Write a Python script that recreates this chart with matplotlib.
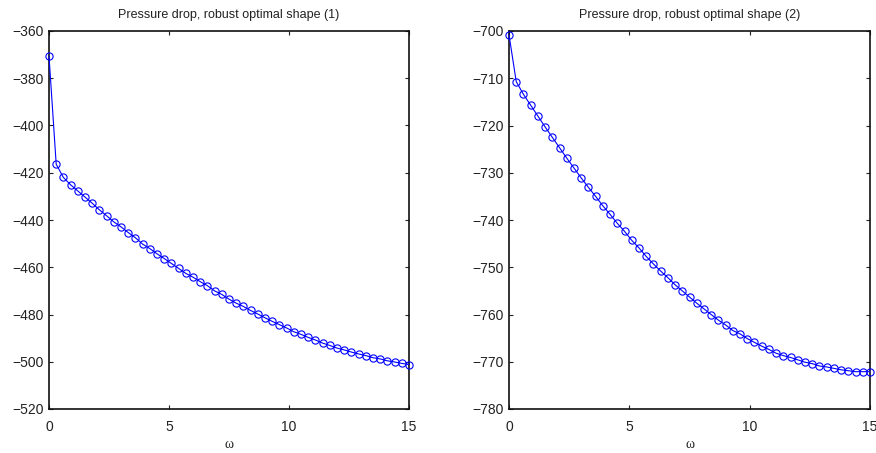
import numpy as np
import matplotlib
matplotlib.use("Agg")
import matplotlib.pyplot as plt

omega = [round(0.3 * i, 1) for i in range(51)]

shape1 = [-370.6, -416.4, -422.0, -425.1, -427.7, -430.3, -432.9, -435.7, -438.2, -440.8,
          -442.9, -445.3, -447.5, -450.2, -452.1, -454.3, -456.3, -458.4, -460.5, -462.6,
          -464.2, -466.1, -467.8, -470.0, -471.5, -473.5, -475.2, -476.6, -478.3, -479.8,
          -481.4, -482.9, -484.3, -485.7, -487.3, -488.4, -489.7, -490.8, -492.1, -493.1,
          -494.2, -495.0, -495.9, -496.7, -497.4, -498.3, -498.8, -499.6, -500.1, -500.7,
          -501.2]

shape2 = [-700.8, -710.7, -713.4, -715.7, -718.0, -720.3, -722.5, -724.7, -726.9, -729.0,
          -731.1, -733.1, -735.0, -737.0, -738.8, -740.7, -742.4, -744.3, -745.9, -747.7,
          -749.3, -750.8, -752.2, -753.7, -755.0, -756.3, -757.6, -758.8, -760.0, -761.2,
          -762.2, -763.4, -764.1, -765.1, -765.9, -766.7, -767.4, -768.2, -768.7, -769.1,
          -769.6, -770.1, -770.4, -770.9, -771.1, -771.4, -771.7, -771.9, -772.1, -772.1,
          -772.1]

titles = ["Pressure drop, robust optimal shape (1)", "Pressure drop, robust optimal shape (2)"]
xticks = [0, 5, 10, 15]
yticks1 = list(range(-520, -359, 20))
yticks2 = list(range(-780, -699, 10))

plt.rcParams['font.family'] = ['Liberation Sans', 'DejaVu Sans']

fig = plt.figure(figsize=(8.76, 4.53), dpi=100)
ax1 = fig.add_axes([49/876, 44/453, 360/876, 378/453])
ax2 = fig.add_axes([509/876, 44/453, 361/876, 378/453])

for ax, y, title, yt in [(ax1, shape1, titles[0], yticks1), (ax2, shape2, titles[1], yticks2)]:
    ax.plot(omega, y, color='#0000ff', lw=0.8, marker='o', markersize=5.2,
            markerfacecolor='none', markeredgecolor='#0000ff', markeredgewidth=0.8,
            clip_on=False, zorder=3)
    ax.set_xlim(0, 15)
    ax.set_ylim(yt[0], yt[-1])
    ax.set_xticks(xticks)
    ax.set_yticks(yt)
    ax.set_yticklabels([str(v).replace('-', '\u2212') for v in yt])
    ax.tick_params(direction='in', top=True, right=True, length=3, width=0.8,
                   labelsize=10, colors='#222222')
    ax.tick_params(axis='x', pad=8)
    ax.tick_params(axis='y', pad=4)
    for s in ax.spines.values():
        s.set_linewidth(1.2)
        s.set_color('#111111')
    ax.set_title(title, fontsize=9, pad=9, color='#222222')
    ax.set_xlabel('ω', fontsize=10, family=['Liberation Serif', 'DejaVu Serif'],
                  labelpad=3, color='#222222')

fig.savefig('out.png', dpi=100)
